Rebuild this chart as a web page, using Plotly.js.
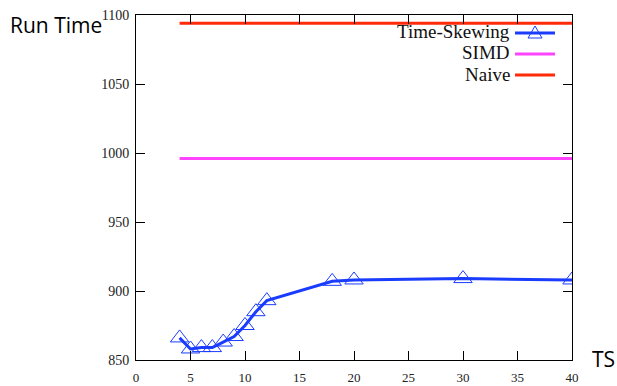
<!DOCTYPE html>
<html>
<head>
<meta charset="utf-8">
<script src="https://cdn.plot.ly/plotly-3.0.1.min.js"></script>
<style>html,body{margin:0;padding:0;background:#fff;}#chart{width:617px;height:386px;}</style>
</head>
<body>
<div id="chart"></div>
<script>
// Data
const tsSizes = [4, 5, 6, 7, 8, 9, 10, 11, 12, 18, 20, 30, 40];
const timeSkewing = [866, 858, 859, 859, 863, 867, 875, 885, 893, 907, 908, 909, 908];
const simdX = [4, 40];
const simdY = [996, 996];
const naiveX = [4, 40];
const naiveY = [1094, 1094];
const seriesNames = ["Time-Skewing", "SIMD", "Naive"];
const xTicks = [0, 5, 10, 15, 20, 25, 30, 35, 40];
const yTicks = [850, 900, 950, 1000, 1050, 1100];

const blue = "#1a3cff";
const pink = "#ff44ff";
const red = "#ff2a08";

const traces = [
  {x: tsSizes, y: timeSkewing, name: seriesNames[0], mode: "lines+markers", type: "scatter",
   line: {color: blue, width: 3},
   marker: {symbol: "triangle-up-open", size: 16, color: blue, line: {width: 1, color: blue}}},
  {x: simdX, y: simdY, name: seriesNames[1], mode: "lines", type: "scatter",
   line: {color: pink, width: 3}},
  {x: naiveX, y: naiveY, name: seriesNames[2], mode: "lines", type: "scatter",
   line: {color: red, width: 3}}
];

const W = 617, H = 386, L = 136, R = 45, T = 15, B = 26;
const pw = W - L - R, ph = H - T - B;
const px = v => (v - L) / pw;
const py = v => (H - B - v) / ph;

const legendRows = [33, 54, 75];
const legendColors = [blue, pink, red];
const shapes = [];
const annotations = [];
legendRows.forEach((r, i) => {
  shapes.push({type: "line", xref: "paper", yref: "paper", x0: px(515), x1: px(555), y0: py(r), y1: py(r),
    line: {color: legendColors[i], width: 3}});
  annotations.push({text: seriesNames[i], xref: "paper", yref: "paper", x: px(512), y: py(r - 1),
    xanchor: "right", yanchor: "middle", showarrow: false,
    font: {family: "Liberation Serif, Times New Roman, serif", size: 19, color: "#111"}});
});
shapes.push({type: "path", xref: "paper", yref: "paper",
  path: `M ${px(528)},${py(38)} L ${px(542)},${py(38)} L ${px(535)},${py(26)} Z`,
  line: {color: blue, width: 1}, fillcolor: "rgba(0,0,0,0)"});

annotations.push({text: "Run Time", xref: "paper", yref: "paper", x: px(8), y: py(25),
  xanchor: "left", yanchor: "middle", showarrow: false,
  font: {family: "Open Sans, sans-serif", size: 21, color: "#000"}});
annotations.push({text: "TS", xref: "paper", yref: "paper", x: px(590), y: py(359),
  xanchor: "left", yanchor: "middle", showarrow: false,
  font: {family: "Open Sans, sans-serif", size: 21, color: "#000"}});

const axisCommon = {
  showgrid: false, zeroline: false, showline: true, linecolor: "#000", linewidth: 1,
  mirror: "allticks", ticks: "inside", ticklen: 9, tickwidth: 1, tickcolor: "#000",
  tickfont: {family: "Liberation Serif, Times New Roman, serif", size: 14, color: "#222"}
};

const layout = {
  width: W, height: H,
  margin: {l: L, r: R, t: T, b: B},
  paper_bgcolor: "#fff", plot_bgcolor: "#fff",
  showlegend: false,
  xaxis: Object.assign({}, axisCommon, {range: [0, 40], tickvals: xTicks, ticktext: xTicks.map(String), ticklabelstandoff: 5,
    tickfont: {family: "Liberation Serif, Times New Roman, serif", size: 13, color: "#222"}}),
  yaxis: Object.assign({}, axisCommon, {range: [850, 1100], tickvals: yTicks, ticktext: yTicks.map(String), ticklabelstandoff: 3}),
  shapes: shapes,
  annotations: annotations
};

Plotly.newPlot("chart", traces, layout, {displayModeBar: false, staticPlot: true});
</script>
</body>
</html>
